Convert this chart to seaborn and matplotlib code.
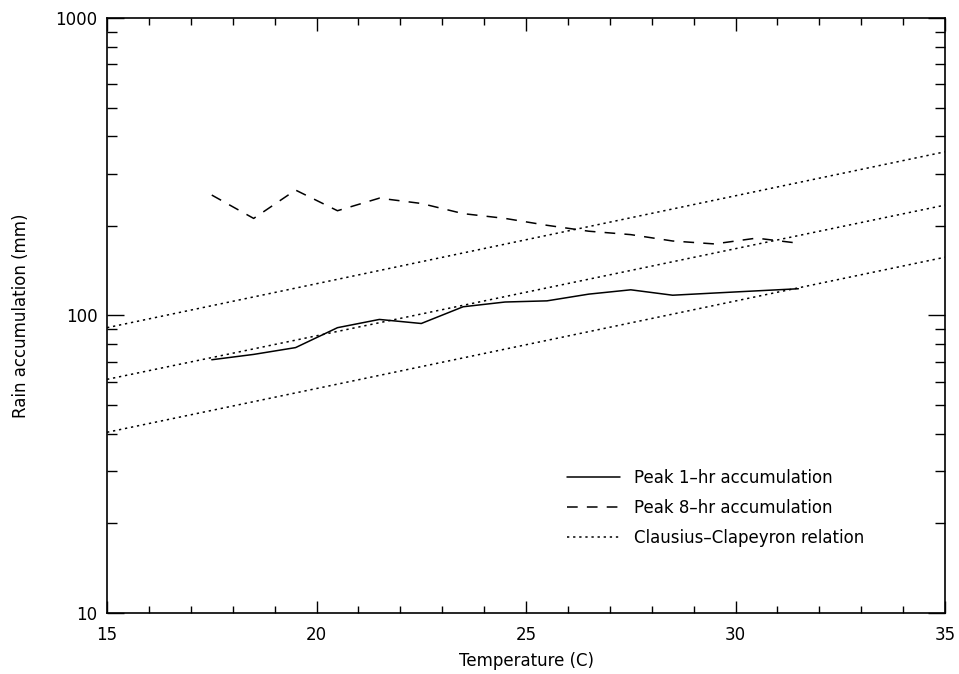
import matplotlib
matplotlib.use('Agg')
import matplotlib.pyplot as plt
import matplotlib.ticker as mticker
import seaborn as sns
import numpy as np

# temperatures of the binned peaks (C)
temps = [17.5, 18.5, 19.5, 20.5, 21.5, 22.5, 23.5, 24.5,
         25.5, 26.5, 27.5, 28.5, 29.5, 30.5, 31.5]
peak_1hr = [71, 74, 78, 91, 97, 94, 107, 111,
            112, 118, 122, 117, 119, 121, 123]
peak_8hr = [254, 212, 264, 225, 248, 238, 220, 212,
            201, 192, 187, 178, 174, 182, 175]

# Clausius-Clapeyron reference lines (end values at 15 C and 35 C)
cc_temps = [15, 35]
cc_high = [91, 355]
cc_mid = [61, 235]
cc_low = [40.5, 157]

sns.set_style('ticks')
plt.rcParams['font.family'] = ['DejaVu Sans']
plt.rcParams['text.color'] = 'black'
plt.rcParams['axes.labelcolor'] = 'black'
plt.rcParams['xtick.color'] = 'black'
plt.rcParams['ytick.color'] = 'black'

fig = plt.figure(figsize=(9.59, 6.74), dpi=100)
ax = fig.add_axes([0.1116, 0.0905, 0.8738, 0.8828])

lw = 1.1
sns.lineplot(x=temps, y=peak_1hr, ax=ax, color='black', linewidth=lw,
             label='Peak 1\u2013hr accumulation')
sns.lineplot(x=temps, y=peak_8hr, ax=ax, color='black', linewidth=lw,
             label='Peak 8\u2013hr accumulation')
ax.lines[-1].set_dashes([7, 6])
for i, cc in enumerate([cc_high, cc_mid, cc_low]):
    sns.lineplot(x=cc_temps, y=cc, ax=ax, color='black', linewidth=lw,
                 label='Clausius\u2013Clapeyron relation' if i == 0 else None)
    ax.lines[-1].set_dashes([1.5, 2.5])

ax.set_yscale('log')
ax.set_xlim(15, 35)
ax.set_ylim(10, 1000)
ax.yaxis.set_major_locator(mticker.FixedLocator([10, 100, 1000]))
ax.yaxis.set_major_formatter(mticker.FormatStrFormatter('%d'))
ax.yaxis.set_minor_locator(mticker.LogLocator(base=10, subs=np.arange(2, 10)))
ax.yaxis.set_minor_formatter(mticker.NullFormatter())
ax.xaxis.set_major_locator(mticker.MultipleLocator(5))
ax.xaxis.set_minor_locator(mticker.MultipleLocator(1))

ax.tick_params(which='both', direction='in', top=True, right=True,
               labelsize=12, width=1, colors='black')
ax.tick_params(axis='y', which='major', length=12, pad=7)
ax.tick_params(axis='y', which='minor', length=7)
ax.tick_params(axis='x', which='major', length=9, pad=9)
ax.tick_params(axis='x', which='minor', length=5)
for sp in ax.spines.values():
    sp.set_linewidth(1.2)
    sp.set_color('black')

ax.set_xlabel('Temperature (C)', fontsize=12, labelpad=6)
ax.set_ylabel('Rain accumulation (mm)', fontsize=12, labelpad=18)

leg = ax.legend(loc='upper left', bbox_to_anchor=(0.549, 0.242), frameon=False,
                fontsize=12, handlelength=3.2, handletextpad=0.8,
                labelspacing=0.72, borderpad=0, borderaxespad=0)
for t in leg.get_texts():
    t.set_color('black')

fig.savefig('out.png', dpi=100)
